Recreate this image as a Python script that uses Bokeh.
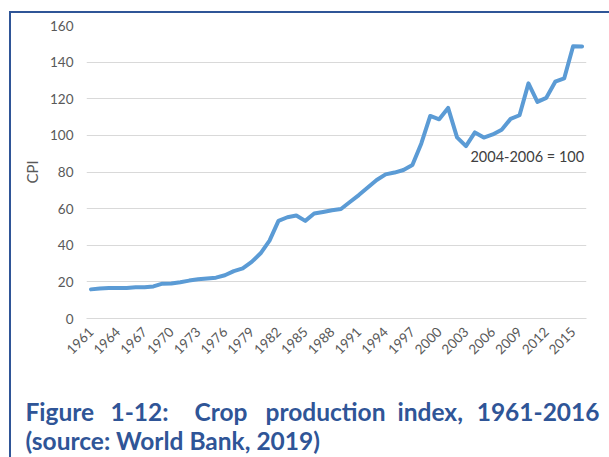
from math import pi

from bokeh.core.properties import value
from bokeh.embed import file_html
from bokeh.layouts import column
from bokeh.models import (ColumnDataSource, FixedTicker, InlineStyleSheet,
                          Label, Range1d)
from bokeh.plotting import figure
from bokeh.resources import INLINE

# Crop production index (2004-2006 = 100), World Bank
years = list(range(1961, 2017))
crop_index = [
    15.9, 16.4, 16.6, 16.7, 16.7, 17.0, 17.1, 17.5, 19.0, 19.1,   # 1961-1970
    19.8, 20.7, 21.4, 21.9, 22.3, 23.6, 25.9, 27.4, 30.9, 35.6,   # 1971-1980
    42.5, 53.3, 55.3, 56.2, 53.3, 57.3, 58.2, 59.1, 59.8, 63.6,   # 1981-1990
    67.4, 71.5, 75.6, 78.7, 79.7, 81.1, 83.8, 95.6, 110.6, 108.8, # 1991-2000
    115.0, 98.9, 94.1, 101.6, 98.8, 100.5, 103.1, 109.0, 111.0, 128.4,  # 2001-2010
    118.3, 120.5, 129.3, 131.1, 148.7, 148.6,                     # 2011-2016
]
tick_years = years[::3]
y_ticks = [0, 20, 40, 60, 80, 100, 120, 140, 160]

caption_line1 = ["Figure", "1-12:", "Crop", "production", "index,", "1961-2016"]
caption_line2 = "(source: World Bank, 2019)"
base_note = "2004-2006 = 100"

BLUE_LINE = "#5B9BD5"
CAPTION_BLUE = "#2F5597"
GRID = "#D9D9D9"
TICK_TEXT = "#595959"

W = 609
CHART_H = 380
CAP_H = 77

src = ColumnDataSource(data=dict(year=years, index=crop_index))

# chart: frame sits at x 86..586, y 25..318
p = figure(width=W, height=CHART_H, output_backend="svg", toolbar_location=None,
           x_range=Range1d(1960.5, 2016.5), y_range=Range1d(0, 160),
           min_border_left=86, min_border_right=23,
           min_border_top=25, min_border_bottom=CHART_H - 318)
p.frame_align = False
p.outline_line_color = None
p.background_fill_color = None
p.border_fill_color = None

p.line(x="year", y="index", source=src, line_color=BLUE_LINE, line_width=4,
       line_join="round", line_cap="round")

p.xgrid.grid_line_color = None
p.ygrid.grid_line_color = GRID
p.ygrid.grid_line_width = 1

# x axis: every third year, slanted labels
xa = p.xaxis[0]
xa.ticker = FixedTicker(ticks=tick_years)
xa.major_label_overrides = {y: str(y) for y in tick_years}
xa.major_label_orientation = pi / 4
xa.major_tick_line_color = None
xa.minor_tick_line_color = None
xa.major_tick_out = 0
xa.axis_line_color = GRID
xa.major_label_text_color = TICK_TEXT
xa.major_label_text_font = "Lato"
xa.major_label_text_font_size = "13.5px"
xa.major_label_standoff = 11

# y axis
ya = p.yaxis[0]
ya.ticker = FixedTicker(ticks=y_ticks)
ya.axis_line_color = None
ya.major_tick_line_color = None
ya.minor_tick_line_color = None
ya.major_tick_out = 0
ya.major_label_text_color = TICK_TEXT
ya.major_label_text_font = "Lato"
ya.major_label_text_font_size = "13.5px"
ya.major_label_standoff = 13
ya.axis_label = "CPI"
ya.axis_label_text_font = "Lato"
ya.axis_label_text_font_style = "normal"
ya.axis_label_text_font_size = "15px"
ya.axis_label_text_color = TICK_TEXT
ya.axis_label_standoff = 6

# base-period note
p.add_layout(Label(x=2003.5, y=88.5, text=base_note, text_font="Lato",
                   text_font_size="14.5px", text_color="#404040",
                   text_baseline="middle", text_align="left"))

# caption panel, drawn in pixel-like coordinates (y grows downward)
cap = figure(width=W, height=CAP_H, output_backend="svg", toolbar_location=None,
             x_range=Range1d(0, W), y_range=Range1d(CAP_H, 0),
             x_axis_location=None, y_axis_location=None, min_border=0)
cap.frame_align = False
cap.grid.visible = False
cap.outline_line_color = None
cap.background_fill_color = None
cap.border_fill_color = None

caption_style = dict(text_font=value("Lato"), text_font_style="bold",
                     text_font_size="24.5px", text_color=CAPTION_BLUE,
                     text_baseline="alphabetic")
# first line spread evenly across the full width
cap.text(x=[25, 110, 194, 265, 397], y=[31] * 5, text=caption_line1[:5],
         text_align="left", **caption_style)
cap.text(x=[599], y=[31], text=caption_line1[5:], text_align="right",
         **caption_style)
cap.text(x=[25], y=[60], text=[caption_line2], text_align="left",
         **caption_style)

# page frame: blue rule along the top and left edges
frame_css = InlineStyleSheet(css="""
:host { position: relative; }
:host::after {
  content: "";
  position: absolute;
  left: 9px; top: 11px; right: 0; bottom: 0;
  border-top: 2.5px solid #2F5597;
  border-left: 2.5px solid #2F5597;
  pointer-events: none;
}
""")

layout = column(p, cap, spacing=0, stylesheets=[frame_css])

open("out.html", "w").write(file_html(layout, INLINE))
